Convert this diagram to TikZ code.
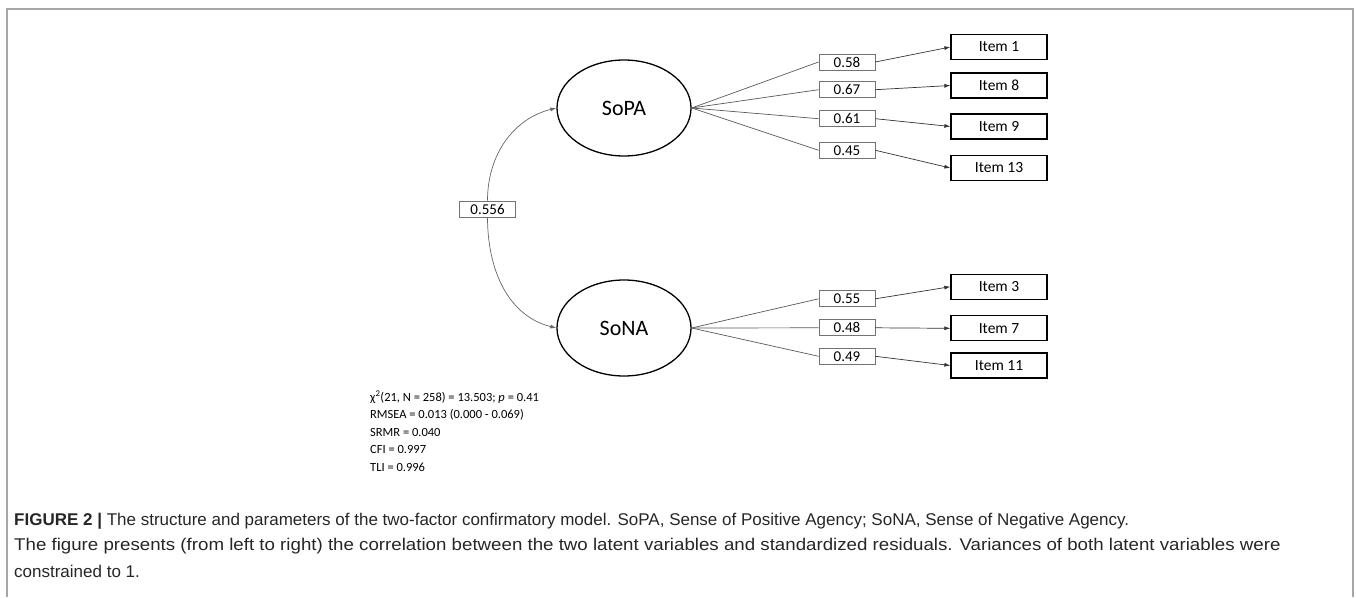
\documentclass[tikz,border=0pt]{standalone}
\usepackage{fontspec}
\setmainfont{Carlito}
\newfontfamily\capfont{Liberation Sans}
\newfontfamily\capfontwide[FakeStretch=1.1]{Liberation Sans}
\usetikzlibrary{arrows.meta,shapes.geometric}
\begin{document}
\begin{tikzpicture}[x=1pt,y=-1pt,
  latent/.style={draw=black,line width=1.3pt,ellipse,minimum width=134pt,minimum height=96pt,inner sep=0pt,font=\fontsize{22}{26}\selectfont},
  itembox/.style={draw=black,line width=1.3pt,rectangle,minimum width=96pt,minimum height=25pt,inner sep=0pt,font=\fontsize{15.5}{18}\selectfont},
  loadbox/.style={draw=black!55,line width=0.8pt,rectangle,minimum width=56pt,minimum height=16pt,inner sep=0pt,font=\fontsize{15}{16}\selectfont},
  toload/.style={draw=black!65,line width=0.7pt},
  toitem/.style={draw=black!80,line width=0.7pt,-{Latex[length=6pt,width=4pt]}},
  corr/.style={draw=black!60,line width=0.7pt,-{Latex[length=6pt,width=4pt]}},
  framel/.style={draw=black!35,line width=1.5pt},
  captext/.style={anchor=west,inner sep=0pt,text=black!85,font=\capfont\fontsize{17}{20}\selectfont},
  captextwide/.style={anchor=west,inner sep=0pt,text=black!85,font=\capfontwide\fontsize{17}{20}\selectfont}
]
\useasboundingbox (0,0) rectangle (1356,597);
\draw[framel] (7,597) -- (7,9) -- (1353,9) -- (1353,597);

\node[latent] (sopa) at (624,108) {SoPA};
\node[latent] (sona) at (624,328) {SoNA};

\node[itembox] (i1) at (999,47) {Item 1};
\node[itembox] (i8) at (999,85.5) {Item 8};
\node[itembox] (i9) at (999,126.5) {Item 9};
\node[itembox] (i13) at (999,168) {Item 13};
\node[itembox] (i3) at (999,286.7) {Item 3};
\node[itembox] (i7) at (999,328.3) {Item 7};
\node[itembox] (i11) at (999,365.5) {Item 11};

\node[loadbox] (l1) at (847,62) {0.58};
\node[loadbox] (l8) at (847,89.7) {0.67};
\node[loadbox] (l9) at (847,118.7) {0.61};
\node[loadbox] (l13) at (847,150.3) {0.45};
\node[loadbox] (l3) at (847,298.8) {0.55};
\node[loadbox] (l7) at (847,327.8) {0.48};
\node[loadbox] (l11) at (847,356.3) {0.49};

\node[loadbox] (lc) at (487.5,209) {0.556};

\foreach \l/\i in {l1/i1,l8/i8,l9/i9,l13/i13}{
  \draw[toload] (sopa.east) -- (\l.west);
  \draw[toitem] (\l.east) -- (\i.west);
}
\foreach \l/\i in {l3/i3,l7/i7,l11/i11}{
  \draw[toload] (sona.east) -- (\l.west);
  \draw[toitem] (\l.east) -- (\i.west);
}

\draw[corr] (lc.north) to[out=90,in=194] (sopa.west);
\draw[corr] (lc.south) to[out=-90,in=166] (sona.west);

\node[anchor=north west,align=left,inner sep=0pt,font=\fontsize{12.5}{17.5}\selectfont] (fit) at (370,391)
{χ\textsuperscript{2}(21, N = 258) = 13.503; \textit{p} = 0.41\\
RMSEA = 0.013 (0.000 - 0.069)\\
SRMR = 0.040\\
CFI = 0.997\\
TLI = 0.996};

\node[captext] (cap1) at (14,521)
{\textbf{FIGURE 2} \textbf{|} The structure and parameters of the two-factor confirmatory model. SoPA, Sense of Positive Agency; SoNA, Sense of Negative Agency.};
\node[captextwide] (cap2) at (14,546)
{The figure presents (from left to right) the correlation between the two latent variables and standardized residuals. Variances of both latent variables were};
\node[captext] (cap3) at (14,571)
{constrained to 1.};
\end{tikzpicture}
\end{document}
